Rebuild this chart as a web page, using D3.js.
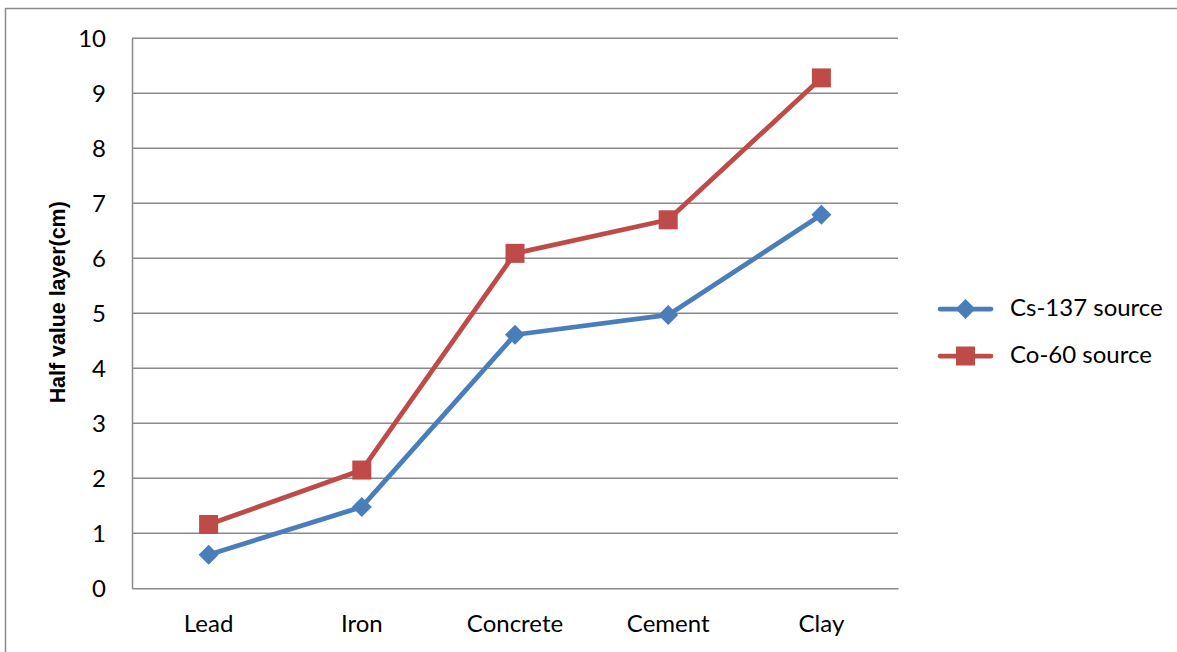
<!DOCTYPE html>
<html>
<head>
<meta charset="utf-8">
<script src="https://cdn.jsdelivr.net/npm/d3@7"></script>
<style>
  html, body { margin: 0; padding: 0; background: #fff; }
  svg { display: block; }
</style>
</head>
<body>
<svg id="chart" width="1177" height="652"></svg>
<script>
// Half value layer (cm) per shielding material
const categories = ["Lead", "Iron", "Concrete", "Cement", "Clay"];
const cs137 = [0.61, 1.48, 4.61, 4.97, 6.79];
const co60 = [1.16, 2.15, 6.09, 6.70, 9.28];
const yTicks = [0, 1, 2, 3, 4, 5, 6, 7, 8, 9, 10];
const seriesNames = ["Cs-137 source", "Co-60 source"];

const svg = d3.select("#chart");
const plot = { left: 132, right: 898, top: 38.3, bottom: 588.3 };

// chart frame
svg.append("rect")
  .attr("x", 5.5).attr("y", 8.5)
  .attr("width", 1300).attr("height", 700)
  .attr("fill", "#fff").attr("stroke", "#8c8c8c").attr("stroke-width", 1.5);

const x = d3.scaleBand().domain(categories).range([plot.left, plot.right]).padding(0);
const y = d3.scaleLinear().domain([0, 10]).range([plot.bottom, plot.top]);

const tickFont = "Lato, 'Open Sans', sans-serif";
const tickSize = 24;

// horizontal gridlines
svg.append("g").selectAll("line").data(yTicks.filter(d => d > 0)).join("line")
  .attr("x1", plot.left).attr("x2", plot.right)
  .attr("y1", d => y(d)).attr("y2", d => y(d))
  .attr("stroke", "#8a8a8a").attr("stroke-width", 1.5);

// y axis
const yAxis = d3.axisLeft(y).tickValues(yTicks).tickSize(0).tickPadding(26);
const gy = svg.append("g").attr("transform", `translate(${plot.left},0)`).call(yAxis);
gy.select(".domain").attr("stroke", "#8a8a8a").attr("stroke-width", 1.5);
gy.selectAll("text")
  .attr("dy", 8)
  .attr("font-family", tickFont).attr("font-size", tickSize).attr("fill", "#000");

// x axis
const xAxis = d3.axisBottom(x).tickSize(0);
const gx = svg.append("g").attr("transform", `translate(0,${plot.bottom})`).call(xAxis);
gx.select(".domain").attr("stroke", "#8a8a8a").attr("stroke-width", 1.5);
gx.selectAll("text")
  .attr("y", 43.5).attr("dy", null)
  .attr("font-family", tickFont).attr("font-size", tickSize).attr("fill", "#000");

// y axis title
svg.append("text")
  .attr("transform", `translate(65,${(plot.top + plot.bottom) / 2 - 11}) rotate(-90)`)
  .attr("text-anchor", "middle")
  .attr("font-family", "'Liberation Sans', Arial, sans-serif")
  .attr("font-weight", "bold").attr("font-size", 21.4)
  .text("Half value layer(cm)");

const cx = d => x(d) + x.bandwidth() / 2;
const line = d3.line().x(d => cx(d.c)).y(d => y(d.v));

const series = [
  { name: seriesNames[0], values: cs137, color: "#4a7ebb", marker: "diamond" },
  { name: seriesNames[1], values: co60, color: "#be4b48", marker: "square" }
];

function drawMarker(g, type, px, py, color) {
  if (type === "diamond") {
    const r = 10;
    g.append("path")
      .attr("d", `M${px},${py - r}L${px + r},${py}L${px},${py + r}L${px - r},${py}Z`)
      .attr("fill", color);
  } else {
    const s = 19;
    g.append("rect").attr("x", px - s / 2).attr("y", py - s / 2)
      .attr("width", s).attr("height", s).attr("fill", color);
  }
}

series.forEach(s => {
  const pts = categories.map((c, i) => ({ c, v: s.values[i] }));
  const g = svg.append("g");
  g.append("path").datum(pts)
    .attr("d", line)
    .attr("fill", "none").attr("stroke", s.color)
    .attr("stroke-width", 4.75).attr("stroke-linejoin", "round");
  pts.forEach(p => drawMarker(g, s.marker, cx(p.c), y(p.v), s.color));
});

// legend
const legend = svg.append("g");
series.forEach((s, i) => {
  const ly = 309 + i * 47;
  legend.append("line")
    .attr("x1", 940).attr("x2", 991).attr("y1", ly).attr("y2", ly)
    .attr("stroke", s.color).attr("stroke-width", 4.75).attr("stroke-linecap", "round");
  drawMarker(legend, s.marker, 965.5, ly, s.color);
  legend.append("text")
    .attr("x", 1010).attr("y", ly + 7)
    .attr("font-family", tickFont).attr("font-size", tickSize).attr("fill", "#000")
    .text(s.name);
});
</script>
</body>
</html>
